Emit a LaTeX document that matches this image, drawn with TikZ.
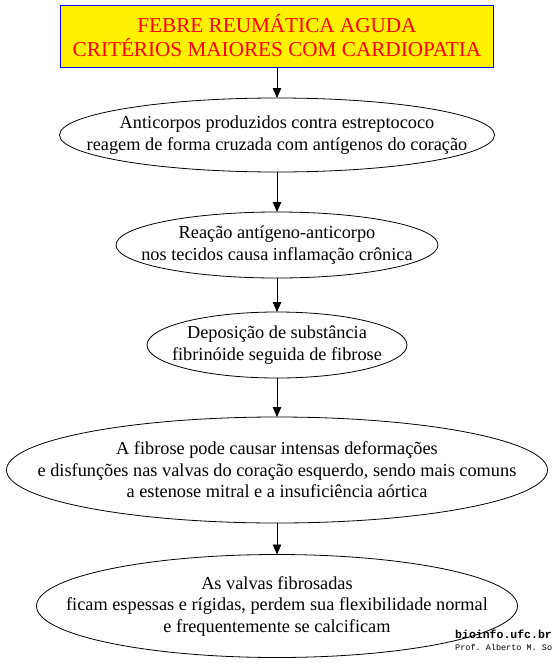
\documentclass[tikz,border=0pt]{standalone}
\usepackage{fontspec}
\setmainfont{Liberation Serif}
\setmonofont{Liberation Mono}
\usetikzlibrary{shapes.geometric,arrows.meta}
\begin{document}
\begin{tikzpicture}[x=1pt,y=-1pt,
  oval/.style={ellipse, draw, line width=0.8pt, inner sep=0pt, outer sep=0pt},
  txt/.style={align=center, inner sep=0pt, font=\fontsize{18.3}{21.5}\selectfont},
  conn/.style={-{Triangle[length=10pt,width=8.5pt]}, line width=0.8pt}]
\useasboundingbox (0,0) rectangle (552,664);
\fill[white] (0,0) rectangle (552,664);
\node[draw=blue, line width=0.8pt, fill=yellow, minimum width=433pt, minimum height=62pt, inner sep=0pt,
  align=center, text=red, font=\fontsize{21.2}{24}\selectfont] (title) at (277,36)
  {FEBRE REUMÁTICA AGUDA\\CRITÉRIOS MAIORES COM CARDIOPATIA};
\node[oval, minimum width=435pt, minimum height=74pt] (e1) at (277,135) {};
\node[txt] (t1) at (e1.center) {Anticorpos produzidos contra estreptococo\\reagem de forma cruzada com antígenos do coração};
\node[oval, minimum width=322pt, minimum height=66pt] (e2) at (277,245) {};
\node[txt] (t2) at (e2.center) {Reação antígeno-anticorpo\\nos tecidos causa inflamação crônica};
\node[oval, minimum width=260pt, minimum height=66pt] (e3) at (277,345) {};
\node[txt] (t3) at (e3.center) {Deposição de substância\\fibrinóide seguida de fibrose};
\node[oval, minimum width=541pt, minimum height=106pt] (e4) at (277,470) {};
\node[txt] (t4) at (e4.center) {A fibrose pode causar intensas deformações\\e disfunções nas valvas do coração esquerdo, sendo mais comuns\\a estenose mitral e a insuficiência aórtica};
\node[oval, minimum width=481pt, minimum height=103pt] (e5) at (277,606) {};
\node[txt] (t5) at (e5.center) {As valvas fibrosadas\\ficam espessas e rígidas, perdem sua flexibilidade normal\\e frequentemente se calcificam};
\draw[conn] (title.south) -- (e1.north);
\draw[conn] (e1.south) -- (e2.north);
\draw[conn] (e2.south) -- (e3.north);
\draw[conn] (e3.south) -- (e4.north);
\draw[conn] (e4.south) -- (e5.north);
\node[anchor=west, inner sep=0pt, font=\ttfamily\bfseries\fontsize{11.5}{12}\selectfont] (wm1) at (455,634) {bioinfo.ufc.br};
\node[anchor=west, inner sep=0pt, font=\ttfamily\fontsize{8.5}{9}\selectfont] (wm2) at (455,647) {Prof. Alberto M. So};
\end{tikzpicture}
\end{document}
